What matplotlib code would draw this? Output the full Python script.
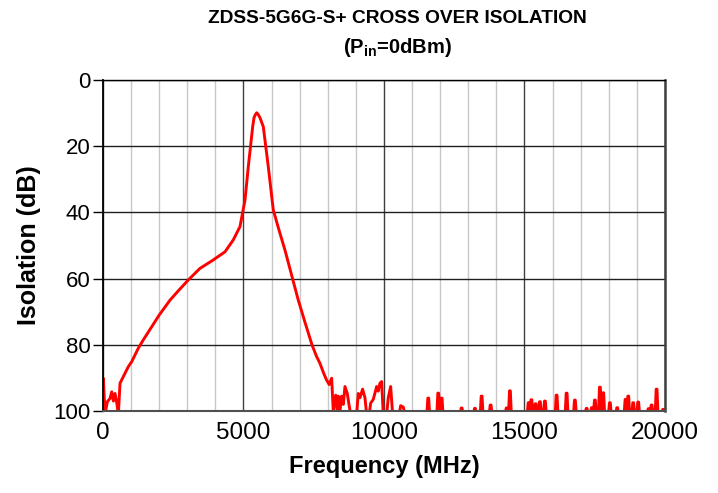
import matplotlib
matplotlib.use("Agg")
import matplotlib.pyplot as plt
from matplotlib.ticker import MultipleLocator

plt.rcParams['font.family'] = ['Liberation Sans', 'DejaVu Sans']
plt.rcParams['mathtext.fontset'] = 'custom'
plt.rcParams['mathtext.rm'] = 'Liberation Sans:bold'

# isolation curve (MHz, dB), incl. the noisy ends
freq_main = [0, 11, 71, 153, 249, 310, 370, 427, 480, 545, 605, 723, 900, 1021,
             1257, 1435, 1700, 2000, 2384, 2700, 3036, 3452, 3900, 4342, 4637,
             4875, 5053, 5171, 5250, 5327, 5374, 5420, 5470, 5530, 5587, 5705,
             5883, 6061, 6270, 6477, 6700, 6950, 7200, 7438, 7600, 7722, 7850,
             7950, 8050, 8138, 8196, 8281, 8338, 8374, 8434, 8494, 8553, 8612,
             8694, 8754, 8815, 9028, 9085, 9146, 9240, 9324, 9384, 9477, 9527,
             9620, 9740, 9797, 9858, 9918, 9975, 10096, 10153, 10238, 10310,
             10545, 10594, 10687, 10747]
iso_main = [101, 90.1, 101, 97.2, 96.2, 94.2, 97, 94.7, 97, 101, 91.6, 89.6,
            86.6, 85.1, 81, 78.5, 75, 71, 66.5, 63.5, 60.4, 56.9, 54.5, 51.9,
            48.3, 44.3, 36.3, 26.2, 20, 14.1, 11.4, 10.5, 9.9, 10.5, 11.4, 14.1,
            26.2, 39.3, 45.5, 51.4, 58.5, 66.5, 73.5, 80, 83.5, 85.6, 88.5,
            90.5, 92, 90.1, 100, 95.2, 100, 95.5, 100, 95.5, 98, 92.6,
            94.7, 98, 101, 101, 94.7, 96, 93.4, 96, 101, 101, 97.6,
            96.5, 92.6, 94, 91.6, 91.1, 101, 101, 96, 92.6, 101,
            101, 98.4, 98.8, 101]

# sparse noise spikes above 11 GHz (MHz, dB)
freq_noise = [11577, 11933, 12053, 12765, 13238, 13477, 13797, 14366, 14484,
              15150, 15250, 15400, 15552, 15730, 16146, 16502, 16797, 17214,
              17400, 17509, 17687, 17806, 18043, 18303, 18600, 18696, 18873,
              19051, 19420, 19527, 19705, 19940]
iso_noise = [96.1, 94.6, 96.1, 99.1, 99.2, 95.5, 98.2, 99.1, 93.9,
             97.5, 96.6, 97.8, 97.2, 97.0, 95.2, 94.6, 96.7, 99.2,
             99.0, 96.7, 92.8, 94.5, 97.5, 99, 96.5, 95.5, 97.5,
             97.3, 99.3, 98.2, 93.4, 99.5]

freq = list(freq_main)
iso = list(iso_main)
for f, v in zip(freq_noise, iso_noise):
    freq += [f - 50, f - 15, f + 15, f + 50]
    iso += [101, v, v, 101]

fig = plt.figure(figsize=(7.18, 4.93), dpi=100)
ax = fig.add_axes([0.1435, 0.1663, 0.7825, 0.6714])

ax.plot(freq, iso, color='#ff0000', linewidth=2.1, clip_on=True,
        solid_joinstyle='round')

ax.set_xlim(0, 20000)
ax.set_ylim(100, 0)
ax.xaxis.set_major_locator(MultipleLocator(5000))
ax.xaxis.set_minor_locator(MultipleLocator(1000))
ax.yaxis.set_major_locator(MultipleLocator(20))

ax.grid(which='minor', axis='x', color='#c8c8c8', linewidth=1.0)
ax.grid(which='major', axis='x', color='#404040', linewidth=1.0)
ax.grid(which='major', axis='y', color='#202020', linewidth=1.0)
ax.set_axisbelow(True)

ax.tick_params(axis='x', which='both', length=0, pad=8, labelsize=17.5)
ax.tick_params(axis='y', which='major', length=7, width=1, direction='out',
               pad=2, labelsize=16)

ax.spines['left'].set_color('black')
ax.spines['left'].set_linewidth(1.3)
ax.spines['right'].set_color('#404040')
ax.spines['right'].set_linewidth(1.8)
ax.spines['bottom'].set_color('#505050')
ax.spines['bottom'].set_linewidth(1.5)
ax.spines['top'].set_color('black')
ax.spines['top'].set_linewidth(1.0)

ax.set_xlabel('Frequency (MHz)', fontsize=17, fontweight='bold', labelpad=8)
ax.set_ylabel('Isolation (dB)', fontsize=18, fontweight='bold', labelpad=9)

fig.text(0.5535, 0.962, 'ZDSS-5G6G-S+ CROSS OVER ISOLATION', ha='center',
         va='center', fontsize=13.8, fontweight='bold')
fig.text(0.5535, 0.903, r'(P$_\mathrm{in}$=0dBm)', ha='center',
         va='center', fontsize=14.5, fontweight='bold')

fig.savefig('out.png', dpi=100)
